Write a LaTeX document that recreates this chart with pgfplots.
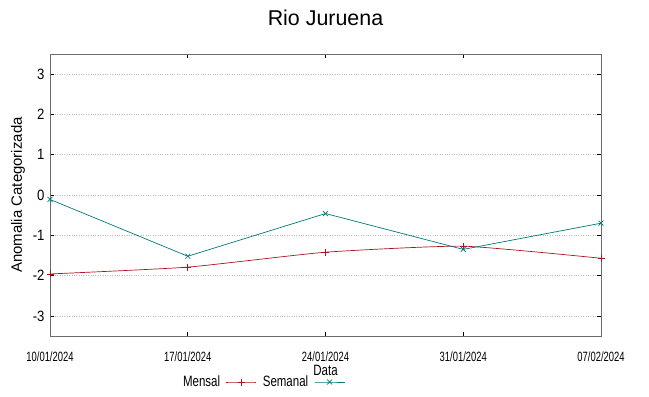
\documentclass[border=0pt]{standalone}
\usepackage{pgfplots}
\pgfplotsset{compat=1.18}
\usepackage{fontspec}
\setmainfont{Liberation Sans}
\newfontfamily\narrowA[FakeStretch=0.70]{Liberation Sans}
\newfontfamily\narrowB[FakeStretch=0.77]{Liberation Sans}
\newfontfamily\narrowC[FakeStretch=0.88]{Liberation Sans}
\definecolor{mred}{RGB}{170,20,30}
\definecolor{steal}{RGB}{0,120,120}
\begin{document}
\begin{tikzpicture}[x=1bp,y=1bp]
\path[use as bounding box] (0,0) rectangle (649,396);
\begin{axis}[
  at={(50bp,60bp)}, anchor=south west,
  scale only axis, width=551bp, height=282bp,
  xmin=0, xmax=28, ymin=-3.5, ymax=3.5,
  xtick={0,7,14,21,28},
  xticklabels={10/01/2024,17/01/2024,24/01/2024,31/01/2024,07/02/2024},
  ytick={-3,-2,-1,0,1,2,3},
  yticklabels={-3,-2,-1,0,1,2,3},
  tick align=inside,
  major tick length=4bp,
  axis line style={gray!85!black, line width=0.8pt},
  tick style={black, line width=0.6pt},
  ymajorgrids,
  grid style={gray!55, dotted, line width=0.6pt},
  xticklabel style={font=\narrowA\fontsize{13.5}{14}\selectfont, anchor=center, yshift=-21bp},
  yticklabel style={font=\narrowC\fontsize{15}{16}\selectfont, xshift=-2bp},
  ylabel={Anomalia Categorizada},
  ylabel style={font=\fontsize{15}{16}\selectfont, at={(axis description cs:-0.058,0.5)}, anchor=center},
  xlabel={Data},
  xlabel style={font=\narrowB\fontsize{15}{16}\selectfont, at={(axis description cs:0.5,0)}, anchor=center, yshift=-34bp},
  title={Rio Juruena},
  title style={font=\fontsize{21.5}{24}\selectfont, at={(axis description cs:0.5,1)}, anchor=center, yshift=30bp},
  legend plot pos=right,
  legend columns=2,
  legend style={draw=none, fill=none, at={(213bp,-46bp)}, anchor=center, font=\narrowB\fontsize{15}{16}\selectfont, inner sep=0pt, column sep=4bp},
  legend image code/.code={\draw[mark repeat=2,mark phase=2] plot coordinates {(0bp,0bp) (15bp,0bp) (30bp,0bp)};},
]
\addplot[mred, line width=0.7pt, mark=+, mark size=3.5bp, smooth, tension=0.3] coordinates {
(0,-1.96) (7,-1.79) (14,-1.42) (21,-1.27) (28,-1.57)};
\addlegendentry{Mensal}
\addplot[steal, line width=0.7pt, mark=x, mark size=3.5bp] coordinates {
(0,-0.11) (7,-1.52) (14,-0.46) (21,-1.35) (28,-0.70)};
\addlegendentry{Semanal}
\end{axis}
\end{tikzpicture}
\end{document}
